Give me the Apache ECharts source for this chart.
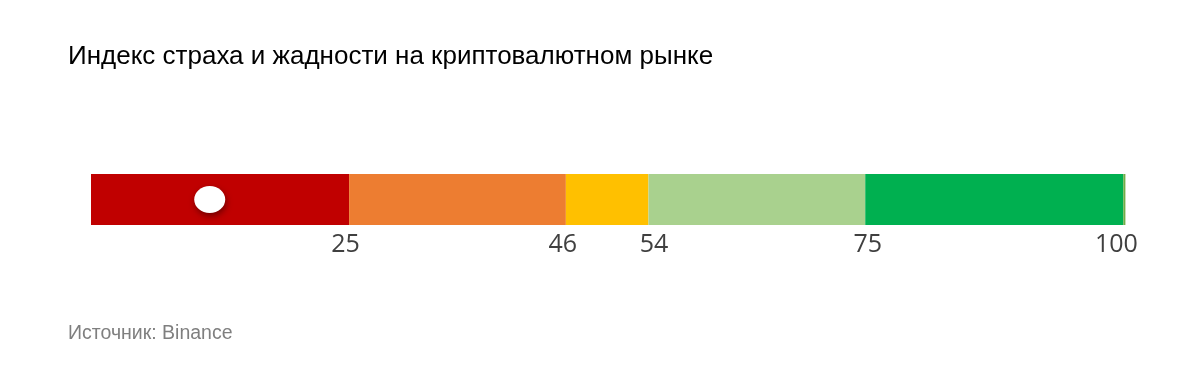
<!DOCTYPE html>
<html>
<head>
<meta charset="utf-8">
<script src="https://cdn.jsdelivr.net/npm/echarts@6/dist/echarts.min.js"></script>
<style>html,body{margin:0;padding:0;background:#fff}#c{width:1200px;height:390px}</style>
</head>
<body>
<div id="c"></div>
<script>
const titleText = 'Индекс страха и жадности на криптовалютном рынке';
const sourceText = 'Источник: Binance';
const zoneNames = ['Крайний страх', 'Страх', 'Нейтрально', 'Жадность', 'Крайняя жадность', 'Конец'];
const zoneBounds = [25, 46, 54, 75, 100, 100.2];
const tickLabels = [25, 46, 54, 75, 100];
const currentValue = 11.5;
const zoneColors = ['#C00000', '#ED7D31', '#FFC000', '#A9D18E', '#00B050', '#70AD47'];

// horizontal nudges (px) of the tick labels, as placed in the original
const labelNudge = {25: -3.5, 46: -3, 54: 5.5, 75: 2.5, 100: -7};

const chart = echarts.init(document.getElementById('c'), null, {renderer: 'canvas'});
const series = zoneBounds.map((b, i) => ({
  name: zoneNames[i],
  type: 'bar',
  stack: 'scale',
  barWidth: '100%',
  silent: true,
  itemStyle: {color: zoneColors[i]},
  data: [+(b - (i ? zoneBounds[i - 1] : 0)).toFixed(3)]
}));
series.push({
  type: 'scatter',
  data: [[currentValue, 0]],
  symbol: 'circle',
  symbolSize: [31, 27],
  z: 10,
  itemStyle: {
    color: '#FFFFFF',
    opacity: 1,
    shadowBlur: 6,
    shadowColor: 'rgba(60,0,0,0.6)',
    shadowOffsetX: 1,
    shadowOffsetY: 3
  }
});
const rich = {};
Object.keys(labelNudge).forEach(k => {
  const d = labelNudge[k];
  rich['l' + k] = {
    fontFamily: 'Open Sans', fontSize: 25, color: '#404040',
    padding: [0, d < 0 ? -2 * d : 0, 0, d > 0 ? 2 * d : 0]
  };
});
chart.setOption({
  animation: false,
  title: [
    {text: titleText, left: 63, top: 39, textStyle: {fontFamily: 'Liberation Sans', fontSize: 26, fontWeight: 'normal', color: '#000000'}},
    {text: sourceText, left: 63, top: 319, textStyle: {fontFamily: 'Liberation Sans', fontSize: 19.5, fontWeight: 'normal', color: '#7F7F7F'}}
  ],
  grid: {left: 91, right: 1200 - 91 - 1034.4, top: 174, height: 51, containLabel: false},
  xAxis: {
    type: 'value', min: 0, max: 100.2,
    axisLine: {show: false}, axisTick: {show: false}, splitLine: {show: false},
    axisLabel: {
      customValues: tickLabels, margin: 7, fontFamily: 'Open Sans', fontSize: 25, color: '#404040',
      formatter: v => '{l' + v + '|' + v + '}', rich: rich
    }
  },
  yAxis: {type: 'category', data: [''], show: false},
  series: series
});
</script>
</body>
</html>
